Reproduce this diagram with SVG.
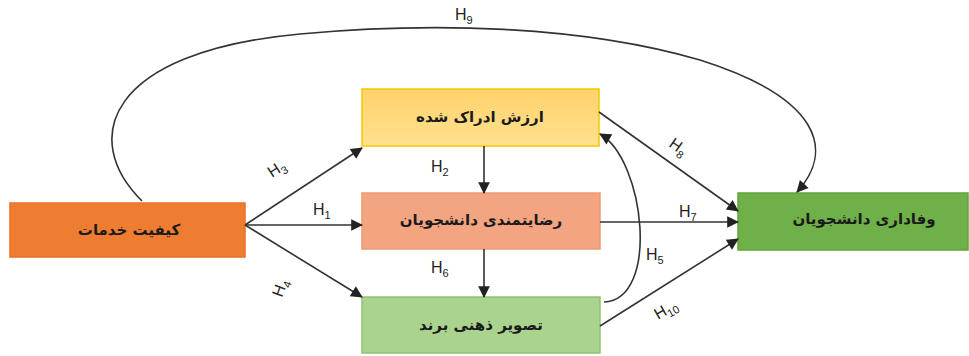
<svg xmlns="http://www.w3.org/2000/svg" width="969" height="356" viewBox="0 0 969 356">
<style>
.box{stroke-width:1.5}
.lbl{font-family:"DejaVu Sans",sans-serif;font-size:15px;font-weight:bold;fill:#1a1a1a;text-anchor:middle}
.h{font-family:"Liberation Sans",Arial,sans-serif;font-size:16px;fill:#222}
.sub{font-size:11px}
.ln{fill:none;stroke:#333;stroke-width:1.6}
</style>
<defs>
<marker id="ah" viewBox="0 0 10 10" refX="9" refY="5" markerWidth="9" markerHeight="9" markerUnits="userSpaceOnUse" orient="auto" overflow="visible">
<path d="M0,0 L10,5 L0,10 z" fill="#222" transform="scale(1.3) translate(-2.3,-1.15)"/>
</marker>
<linearGradient id="gy" x1="0" y1="0" x2="0" y2="1"><stop offset="0" stop-color="#FFD36B"/><stop offset="1" stop-color="#FFE08F"/></linearGradient>
</defs>
<rect width="969" height="356" fill="#fff"/>
<g id="n1"><rect class="box" x="10" y="203" width="235" height="54" fill="#EE7D31" stroke="#E8712A"/><text class="lbl" x="129" y="235">کیفیت خدمات</text></g>
<g id="n2"><rect class="box" x="362" y="89" width="237" height="57" fill="url(#gy)" stroke="#F5C800"/><text class="lbl" x="480" y="122">ارزش ادراک شده</text></g>
<g id="n3"><rect class="box" x="362" y="193" width="238" height="56" fill="#F3A582" stroke="#EE9A72"/><text class="lbl" x="481" y="225">رضایتمندی دانشجویان</text></g>
<g id="n4"><rect class="box" x="362" y="297" width="238" height="56" fill="#A9D38F" stroke="#8FC46E"/><text class="lbl" x="481" y="330">تصویر ذهنی برند</text></g>
<g id="n5"><rect class="box" x="738" y="193" width="230" height="57" fill="#6FB048" stroke="#62A43C"/><text class="lbl" x="864" y="224">وفاداری دانشجویان</text></g>
<g id="connectors">
<path class="ln" marker-end="url(#ah)" d="M245,225 L362,148"/>
<path class="ln" marker-end="url(#ah)" d="M245,225 L362,225"/>
<path class="ln" marker-end="url(#ah)" d="M245,225 L362,297"/>
<path class="ln" marker-end="url(#ah)" d="M484,146 L484,193"/>
<path class="ln" marker-end="url(#ah)" d="M484,249 L484,297"/>
<path class="ln" marker-end="url(#ah)" d="M599,112 L738,211"/>
<path class="ln" marker-end="url(#ah)" d="M600,222 L738,222"/>
<path class="ln" marker-end="url(#ah)" d="M600,326 L738,239"/>
<path class="ln" marker-end="url(#ah)" d="M604,302 C660,300 645,160 600,134"/>
<path class="ln" marker-end="url(#ah)" d="M142,201 C80,140 105,52 300,34 C430,22 580,25 700,60 C820,98 835,150 797,192"/>
</g>
<g id="labels">
<text class="h" transform="translate(272,178) rotate(-33)">H<tspan class="sub" dy="4">3</tspan></text>
<text class="h" x="313" y="215">H<tspan class="sub" dy="4">1</tspan></text>
<text class="h" transform="translate(282,298) rotate(-70)">H<tspan class="sub" dy="4">4</tspan></text>
<text class="h" x="431" y="172">H<tspan class="sub" dy="4">2</tspan></text>
<text class="h" x="431" y="273">H<tspan class="sub" dy="4">6</tspan></text>
<text class="h" transform="translate(668,146) rotate(35)">H<tspan class="sub" dy="4">8</tspan></text>
<text class="h" x="679" y="217">H<tspan class="sub" dy="4">7</tspan></text>
<text class="h" x="646" y="260">H<tspan class="sub" dy="4">5</tspan></text>
<text class="h" transform="translate(658,320) rotate(-30)">H<tspan class="sub" dy="4">10</tspan></text>
<text class="h" x="455" y="20">H<tspan class="sub" dy="4">9</tspan></text>
</g>
</svg>
